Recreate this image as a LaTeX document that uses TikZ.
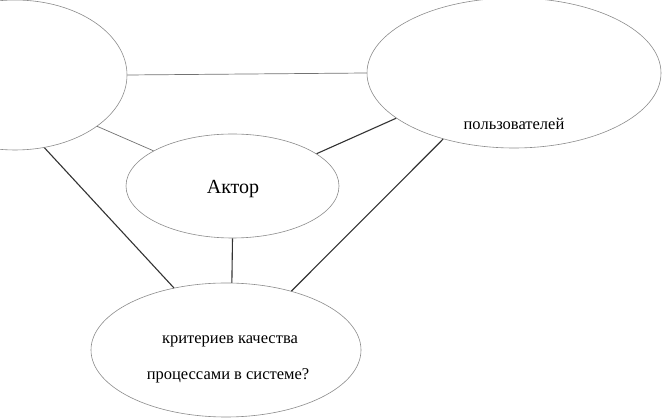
\documentclass[tikz,border=0pt]{standalone}
\usepackage{fontspec}
\setmainfont{Liberation Serif}
\usetikzlibrary{shapes.geometric}
\tikzset{
  oval/.style={draw=black!45, line width=0.6pt, ellipse, inner sep=0pt, fill=white},
  thinlink/.style={draw=black!55, line width=0.7pt},
  darklink/.style={draw=black!80, line width=1.1pt},
  lbl/.style={inner sep=0pt, anchor=base, font=\fontsize{16.5}{19}\selectfont}
}
\begin{document}
\begin{tikzpicture}[x=1pt,y=-1pt]
\useasboundingbox (0,0) rectangle (662,419);
\clip (0,0) rectangle (662,419);
\fill[white] (0,0) rectangle (662,419);
% ellipses
\node[oval, minimum width=224pt, minimum height=150pt] (left) at (15,75) {};
\node[oval, minimum width=294pt, minimum height=150pt] (right) at (514,73) {};
\node[oval, minimum width=213pt, minimum height=104pt] (actor) at (232.5,186) {};
\node[oval, minimum width=270pt, minimum height=134pt] (bottom) at (226,350) {};
% connectors
\draw[thinlink] (left.0) -- (right.180);
\draw[thinlink] (left.-32.7) -- (actor.156.5);
\draw[darklink] (left.-68.2) -- (bottom.130.7);
\draw[darklink] (actor.21.8) -- (right.201.2);
\draw[darklink] (actor.270) -- (bottom.85);
\draw[darklink] (right.223.7) -- (bottom.42);
% texts
\node[inner sep=0pt, anchor=base, font=\fontsize{20}{24}\selectfont] (actortxt) at (233,194) {Актор};
\node[lbl] (t1) at (514,130) {пользователей};
\node[lbl] (t2) at (230,344) {критериев качества};
\node[lbl] (t3) at (228,380) {процессами в системе?};
\end{tikzpicture}
\end{document}
